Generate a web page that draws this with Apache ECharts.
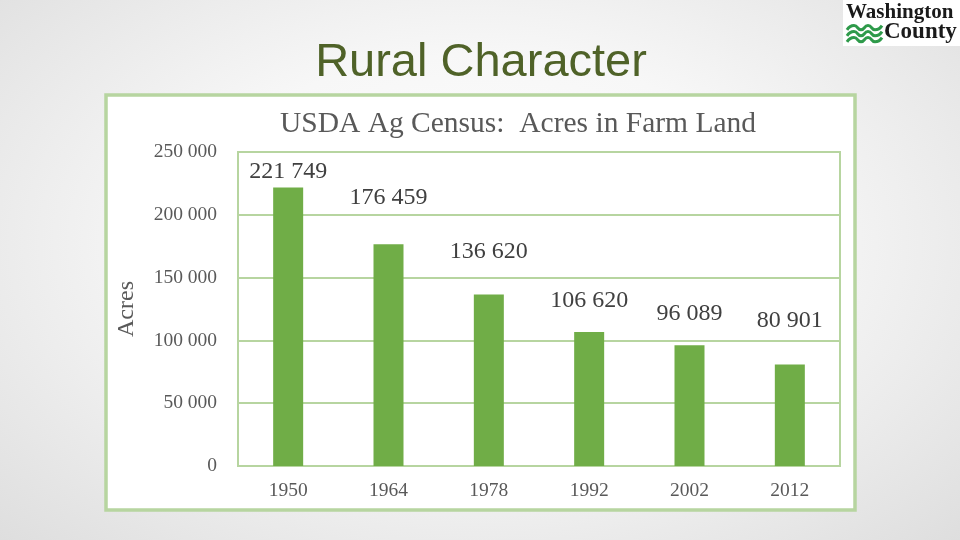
<!DOCTYPE html>
<html><head><meta charset="utf-8">
<style>html,body{margin:0;padding:0;width:960px;height:540px;overflow:hidden;}
body{background:radial-gradient(ellipse at 50% 45%, #ffffff 0%, #f7f7f7 45%, #dedede 100%);}
#c{width:960px;height:540px;}</style>
<script src="https://cdn.jsdelivr.net/npm/echarts@6/dist/echarts.min.js"></script>
</head><body><div id="c"></div>
<script>
const categories = ['1950','1964','1978','1992','2002','2012'];
const acres = [221749, 176459, 136620, 106620, 96089, 80901];
const yTicks = [0, 50000, 100000, 150000, 200000, 250000];
const labelLift = [1, -30, -26, -14, -15, -27];

const fmt = v => String(v).replace(/\B(?=(\d{3})+(?!\d))/g, ' ');
const serif = '"Liberation Serif", "DejaVu Serif", serif';
function wave(y) {
  const pts = [];
  for (let i = 0; i <= 5; i++) pts.push([847 + i * 7, y + (i % 2 ? -2.4 : 1.8)]);
  return {type:'polyline', shape:{points: pts, smooth: 0.6}, style:{stroke:'#2e9a4a', lineWidth:3, fill:null}};
}
const chart = echarts.init(document.getElementById('c'));
chart.setOption({
  backgroundColor: 'transparent',
  animation: false,
  graphic: [
    {type:'rect', shape:{x:106, y:95, width:749, height:415}, style:{fill:'#ffffff', stroke:'#b7d5a0', lineWidth:3.5}, z:-10},
    {type:'text', x:481, y:63, style:{text:'Rural Character', font:'47px "Liberation Sans", Arial, sans-serif', fill:'#4f6228', textAlign:'center', textVerticalAlign:'middle', shadowColor:'rgba(0,0,0,0.18)', shadowOffsetX:2, shadowOffsetY:2, shadowBlur:1}},
    {type:'rect', shape:{x:843, y:0, width:117, height:46}, style:{fill:'#ffffff'}},
    {type:'text', x:846, y:2, style:{text:'Washington', font:'bold 21px "Liberation Serif", serif', fill:'#1a1a1a'}},
    {type:'text', x:884, y:21, style:{text:'County', font:'bold 23px "Liberation Serif", serif', fill:'#1a1a1a'}},
    wave(28), wave(34), wave(40)
  ],
  title: {
    text: 'USDA Ag Census:  Acres in Farm Land',
    left: 513, top: 104, textAlign: 'center',
    textStyle: {fontFamily: serif, fontSize: 29.5, fontWeight: 'normal', color: '#595959'}
  },
  grid: {left: 238, right: 120, top: 152, bottom: 74, show: true, borderColor: '#b7d5a0', borderWidth: 2, backgroundColor: 'transparent'},
  xAxis: {
    type: 'category', data: categories,
    axisLine: {show: false}, axisTick: {show: false},
    axisLabel: {fontFamily: serif, fontSize: 19.5, color: '#595959', margin: 15}
  },
  yAxis: {
    type: 'value', min: 0, max: 250000, interval: 50000,
    name: 'Acres', nameLocation: 'middle', nameGap: 99, nameRotate: 90,
    nameTextStyle: {fontFamily: serif, fontSize: 24, color: '#595959'},
    axisLine: {show: false}, axisTick: {show: false},
    splitLine: {lineStyle: {color: '#b7d5a0', width: 2}},
    axisLabel: {fontFamily: serif, fontSize: 19.5, color: '#595959', margin: 21,
      formatter: v => yTicks.includes(v) ? fmt(v) : ''}
  },
  series: [{
    type: 'bar', barWidth: 30,
    itemStyle: {color: '#70ad47'},
    data: acres.map((v, i) => ({value: v, label: {offset: [0, labelLift[i]]}})),
    label: {show: true, position: 'top', distance: 5, fontFamily: serif, fontSize: 24, color: '#404040',
      formatter: p => fmt(p.value)}
  }]
});
</script></body></html>
